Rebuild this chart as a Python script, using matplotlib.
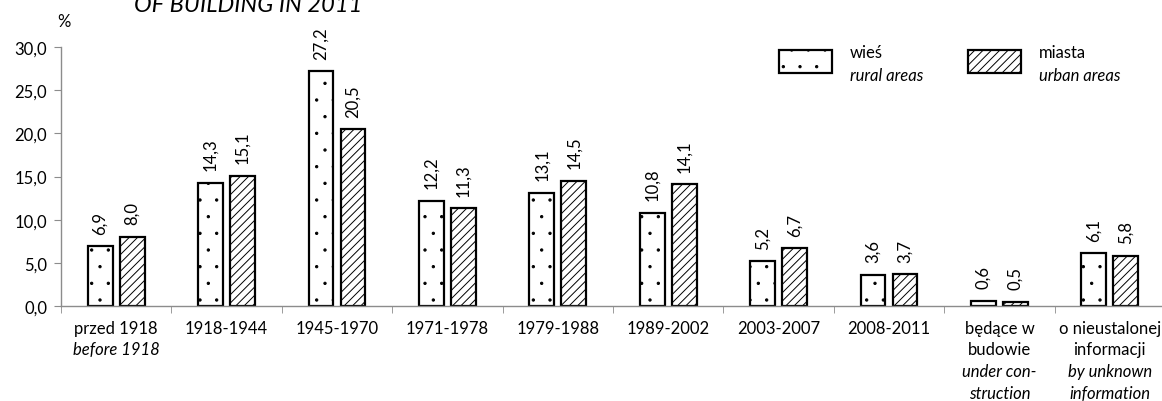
import numpy as np
import matplotlib
matplotlib.use("Agg")
import matplotlib.pyplot as plt
import matplotlib.hatch
from matplotlib.patches import Rectangle

plt.rcParams['font.family'] = ['Lato', 'DejaVu Sans']
plt.rcParams['hatch.linewidth'] = 0.7
# smaller dots for the '.' hatch, closer to the reference pattern
matplotlib.hatch.SmallFilledCircles.size = 0.07

# Data
periods_pl = ["przed 1918", "1918-1944", "1945-1970", "1971-1978", "1979-1988",
              "1989-2002", "2003-2007", "2008-2011", "będące w\nbudowie",
              "o nieustalonej\ninformacji"]
periods_en = ["before 1918", "", "", "", "", "", "", "",
              "under con-\nstruction", "by unknown\ninformation"]
rural = [6.9, 14.3, 27.2, 12.2, 13.1, 10.8, 5.2, 3.6, 0.6, 6.1]
urban = [8.0, 15.1, 20.5, 11.3, 14.5, 14.1, 6.7, 3.7, 0.5, 5.8]
yticks = [0, 5, 10, 15, 20, 25, 30]

W, H = 1162, 402
fs = 12
fig = plt.figure(figsize=(W / 100, H / 100), dpi=100)
ax = fig.add_axes([61 / W, 1 - 307 / H, 1104 / W, 259 / H])

x = np.arange(len(rural))
bw = 0.226
off = 0.145
gray = '#8c8c8c'

b1 = ax.bar(x - off, rural, bw, color='white', edgecolor='black',
            linewidth=1.6, hatch='.', label='wieś')
b2 = ax.bar(x + off, urban, bw, color='white', edgecolor='black',
            linewidth=1.6, hatch='////', label='miasta')

def fmt(v):
    return f"{v:.1f}".replace('.', ',')

# value labels
for bars, vals in [(b1, rural), (b2, urban)]:
    for rect, v in zip(bars, vals):
        ax.annotate(fmt(v), (rect.get_x() + rect.get_width() / 2, v),
                    xytext=(0, 9), textcoords='offset points',
                    rotation=90, ha='center', va='bottom', fontsize=fs)

ax.set_xlim(-0.5, 9.5)
ax.set_ylim(0, 30)
ax.set_yticks(yticks)
ax.set_yticklabels([fmt(t) for t in yticks], fontsize=fs)
ax.set_xticks(x)
ax.set_xticklabels([])
ax.set_xticks(np.arange(-0.5, 10, 1), minor=True)
ax.tick_params(axis='x', which='major', length=0)
ax.tick_params(axis='x', which='minor', length=5, color=gray, direction='out')
ax.tick_params(axis='y', length=5, color=gray, pad=5)
for s in ['top', 'right']:
    ax.spines[s].set_visible(False)
for s in ['left', 'bottom']:
    ax.spines[s].set_color(gray)
    ax.spines[s].set_linewidth(1)

# category labels: Polish regular, English italic
line_pt = 15.8
for i in x:
    pl_lines = periods_pl[i].split('\n')
    en_lines = periods_en[i].split('\n') if periods_en[i] else []
    k = 0
    for t in pl_lines:
        ax.annotate(t, (i, 0), xycoords=('data', 'axes fraction'),
                    xytext=(0, -15.5 - k * line_pt), textcoords='offset points',
                    ha='center', va='center', fontsize=fs, annotation_clip=False)
        k += 1
    for t in en_lines:
        ax.annotate(t, (i, 0), xycoords=('data', 'axes fraction'),
                    xytext=(0, -15.5 - k * line_pt), textcoords='offset points',
                    ha='center', va='center', fontsize=fs, style='italic',
                    annotation_clip=False)
        k += 1

# "%" unit and clipped title
fig.text(64 / W, 1 - 22 / H, "%", ha='center', va='center', fontsize=fs)
fig.text(248 / W, 1 - 12 / H, "OF BUILDING IN 2011", ha='center',
         va='baseline', fontsize=17, style='italic')

# legend drawn by hand
for bx, hatch, l1, l2 in [(779, '.', 'wieś', 'rural areas'),
                          (968, '////', 'miasta', 'urban areas')]:
    fig.patches.append(Rectangle((bx / W, 1 - 74 / H), 53 / W, 23 / H,
                                 transform=fig.transFigure, facecolor='white',
                                 edgecolor='black', linewidth=1.6, hatch=hatch))
    fig.text((bx + 71) / W, 1 - 53 / H, l1, ha='left', va='center', fontsize=fs)
    fig.text((bx + 71) / W, 1 - 76 / H, l2, ha='left', va='center', fontsize=fs,
             style='italic')

fig.savefig("out.png", dpi=100)
